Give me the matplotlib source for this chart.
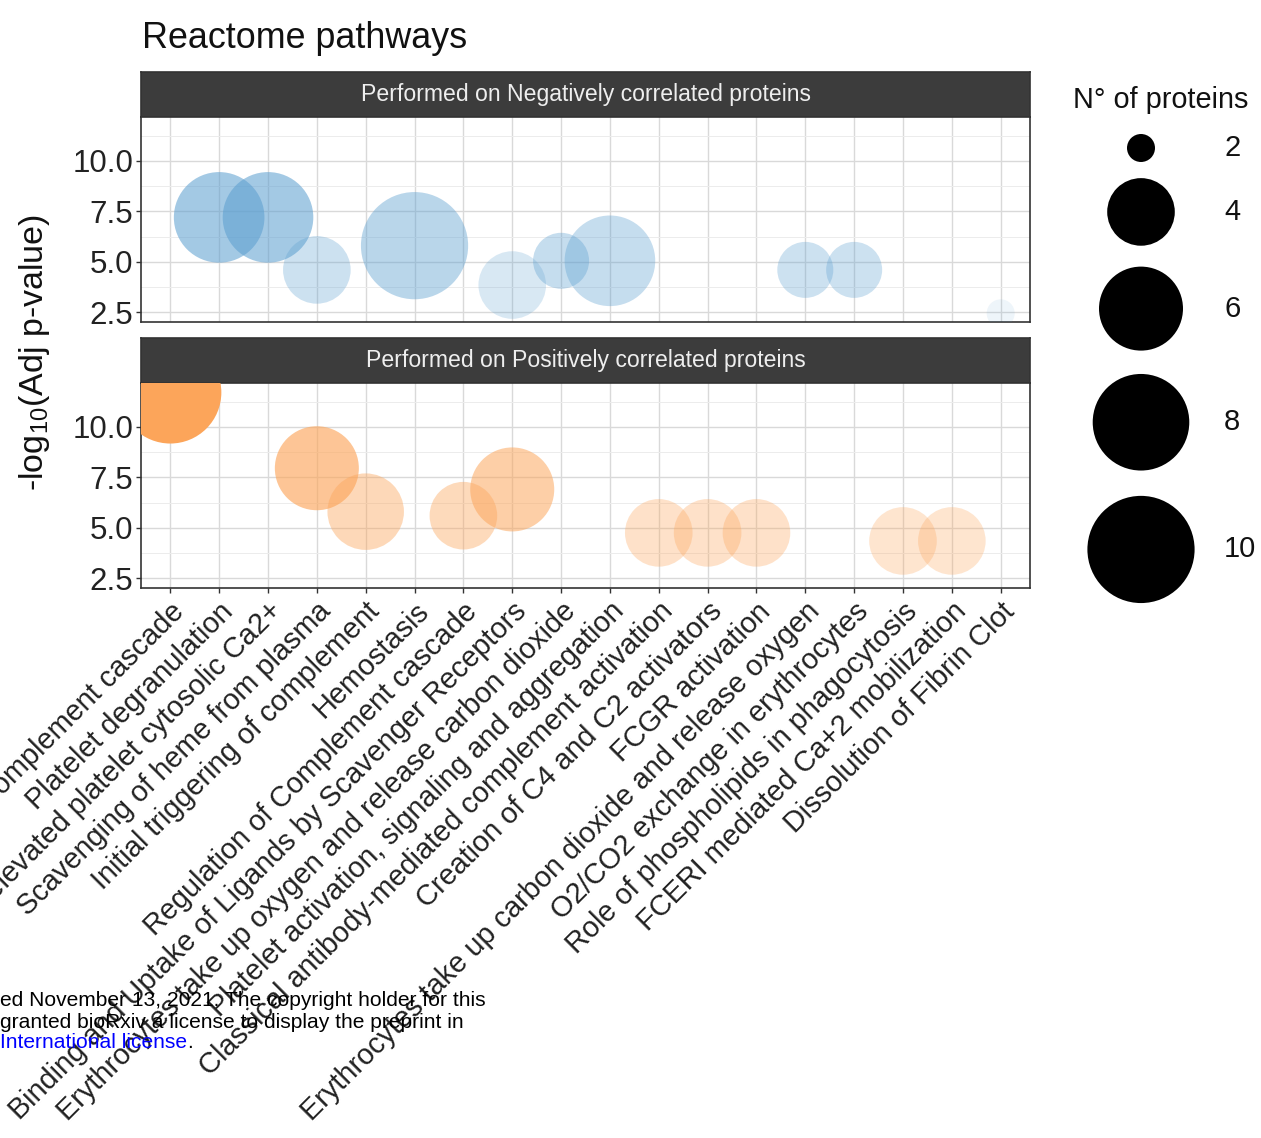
import numpy as np
import matplotlib
matplotlib.use("Agg")
import matplotlib.pyplot as plt
from matplotlib.colors import to_rgba
from matplotlib.ticker import MultipleLocator, FixedLocator

plt.rcParams['font.family'] = ['Liberation Sans', 'DejaVu Sans']
plt.rcParams['mathtext.default'] = 'regular'

# ---------------- data ----------------
categories = [
    "Complement cascade",
    "Platelet degranulation",
    "Response to elevated platelet cytosolic Ca2+",
    "Scavenging of heme from plasma",
    "Initial triggering of complement",
    "Hemostasis",
    "Regulation of Complement cascade",
    "Binding and Uptake of Ligands by Scavenger Receptors",
    "Erythrocytes take up oxygen and release carbon dioxide",
    "Platelet activation, signaling and aggregation",
    "Classical antibody-mediated complement activation",
    "Creation of C4 and C2 activators",
    "FCGR activation",
    "Erythrocytes take up carbon dioxide and release oxygen",
    "O2/CO2 exchange in erythrocytes",
    "Role of phospholipids in phagocytosis",
    "FCERI mediated Ca+2 mobilization",
    "Dissolution of Fibrin Clot",
]

neg_pathways = [
    "Platelet degranulation",
    "Response to elevated platelet cytosolic Ca2+",
    "Scavenging of heme from plasma",
    "Hemostasis",
    "Binding and Uptake of Ligands by Scavenger Receptors",
    "Erythrocytes take up oxygen and release carbon dioxide",
    "Platelet activation, signaling and aggregation",
    "Erythrocytes take up carbon dioxide and release oxygen",
    "O2/CO2 exchange in erythrocytes",
    "Dissolution of Fibrin Clot",
]
neg_logp = [7.2, 7.2, 4.6, 5.8, 3.85, 5.05, 5.05, 4.6, 4.6, 2.45]
neg_n = [7, 7, 4, 10, 4, 3, 7, 3, 3, 2]

pos_pathways = [
    "Complement cascade",
    "Scavenging of heme from plasma",
    "Initial triggering of complement",
    "Regulation of Complement cascade",
    "Binding and Uptake of Ligands by Scavenger Receptors",
    "Classical antibody-mediated complement activation",
    "Creation of C4 and C2 activators",
    "FCGR activation",
    "Role of phospholipids in phagocytosis",
    "FCERI mediated Ca+2 mobilization",
]
pos_logp = [11.7, 7.95, 5.8, 5.6, 6.9, 4.75, 4.75, 4.75, 4.35, 4.35]
pos_n = [9, 6, 5, 4, 6, 4, 4, 4, 4, 4]

legend_breaks = [2, 4, 6, 8, 10]
y_ticks = [2.5, 5.0, 7.5, 10.0]

panel_titles = ["Performed on Negatively correlated proteins",
                "Performed on Positively correlated proteins"]
neg_color = "#5C9FD0"
pos_color = "#FCA55A"

# ---------------- layout helpers ----------------
W, H = 1261, 1138
DPI = 100
fig = plt.figure(figsize=(W / DPI, H / DPI), dpi=DPI)


def fx(px):
    return px / W


def fy(py):
    return 1 - py / H


def diam_px(n):
    return 28 + 28 * np.sqrt(np.asarray(n, dtype=float) - 2)


def size_pt2(n):
    return (diam_px(n) * 72.0 / DPI) ** 2


all_y = np.array(neg_logp + pos_logp)
ymin, ymax = all_y.min(), all_y.max()


def alpha_of(y):
    a = 0.1 + 0.9 * (np.asarray(y, dtype=float) - ymin) / (ymax - ymin)
    return np.clip(a, 0.0, 1.0)


left, right = 141, 1030
panel_specs = [
    (72, 117, 322, panel_titles[0], neg_pathways, neg_logp, neg_n, neg_color, False),
    (338, 383, 588, panel_titles[1], pos_pathways, pos_logp, pos_n, pos_color, True),
]

for strip_top, ptop, pbot, title, paths, ys, ns, col, show_x in panel_specs:
    # strip
    sax = fig.add_axes([fx(left), fy(ptop), (right - left) / W, (ptop - strip_top) / H])
    sax.set_facecolor("#3C3C3C")
    sax.set_xticks([])
    sax.set_yticks([])
    for sp in sax.spines.values():
        sp.set_color("#333333")
        sp.set_linewidth(1.2)
    sax.text(0.5, 0.5, title, transform=sax.transAxes, ha="center", va="center",
             color="#EEEEEE", fontsize=16.6)

    ax = fig.add_axes([fx(left), fy(pbot), (right - left) / W, (pbot - ptop) / H])
    ax.set_xlim(-0.6, len(categories) - 0.4)
    ax.set_ylim(2.02, 12.17)
    ax.set_axisbelow(True)
    ax.yaxis.set_major_locator(FixedLocator(y_ticks))
    ax.yaxis.set_minor_locator(MultipleLocator(1.25))
    ax.set_yticklabels([f"{v:.1f}" for v in y_ticks])
    ax.set_xticks(range(len(categories)))
    ax.grid(which="major", color="#D9D9D9", linewidth=1.0)
    ax.grid(which="minor", axis="y", color="#ECECEC", linewidth=0.7)
    ax.tick_params(axis="y", which="major", length=3.6, width=1.0, color="#333333",
                   labelsize=22.5, pad=2, labelcolor="#222222")
    ax.tick_params(axis="y", which="minor", length=0)
    for sp in ax.spines.values():
        sp.set_color("#333333")
        sp.set_linewidth(1.2)

    xs = [categories.index(p) for p in paths]
    rgba = np.array([to_rgba(col)] * len(xs))
    rgba[:, 3] = alpha_of(ys)
    ax.scatter(xs, ys, s=size_pt2(ns), c=rgba, linewidths=0, zorder=3)

    if show_x:
        ax.set_xticklabels(categories, rotation=45, ha="right", va="top",
                           rotation_mode="anchor", fontsize=20.8, color="#222222")
        ax.tick_params(axis="x", length=3.6, width=1.0, color="#333333", pad=3)
    else:
        ax.set_xticklabels([])
        ax.tick_params(axis="x", length=0)

# title
fig.text(fx(142), fy(38), "Reactome pathways", ha="left", va="center",
         fontsize=25.8, color="#111111")

# y label
fig.text(fx(35), fy(352), r"-log$_{10}$(Adj p-value)", rotation=90,
         ha="center", va="center", fontsize=24.5, color="#111111")

# size legend (drawn in a pixel-coordinate overlay)
lax = fig.add_axes([0, 0, 1, 1], facecolor="none")
lax.set_xlim(0, W)
lax.set_ylim(H, 0)
lax.axis("off")
lax.text(1073, 100, "N\u00b0 of proteins", ha="left", va="center", fontsize=20.8,
         color="#111111")
d = diam_px(legend_breaks)
key_h = 1.17 * d + 8
centers = 148 + np.concatenate([[0], np.cumsum((key_h[:-1] + key_h[1:]) / 2)])
lax.scatter([1141] * len(legend_breaks), centers, s=size_pt2(legend_breaks),
            c="black", linewidths=0, clip_on=False)
for c, b in zip(centers, legend_breaks):
    lax.text(1224, c, str(b), ha="left", va="center", fontsize=21, color="#111111")

# bioRxiv watermark text
fig.text(0, fy(1000), "ed November 13, 2021. The copyright holder for this",
         ha="left", va="center", fontsize=15.1, color="black")
fig.text(0, fy(1022), "granted bioRxiv a license to display the preprint in",
         ha="left", va="center", fontsize=15.1, color="black")
t3 = fig.text(0, fy(1043), "International license", ha="left", va="center",
              fontsize=15.1, color="#0000FF")
lax.annotate(".", xy=(1, 0.5), xycoords=t3, ha="left", va="center",
             fontsize=15.1, color="black")

fig.savefig("out.png", dpi=DPI)
